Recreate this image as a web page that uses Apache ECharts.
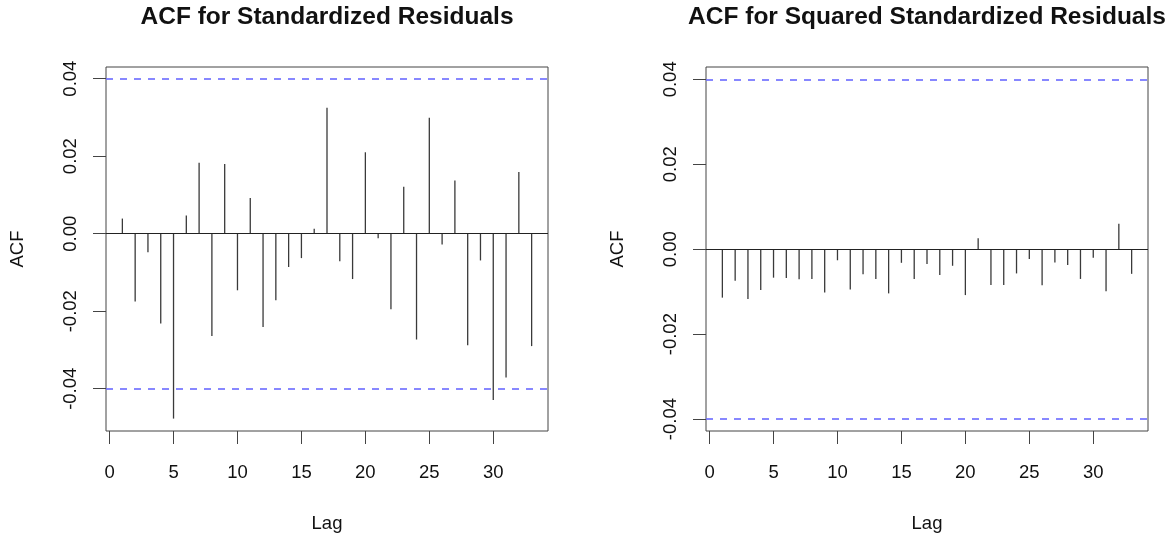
<!DOCTYPE html>
<html>
<head>
<meta charset="utf-8">
<script src="https://cdn.jsdelivr.net/npm/echarts@6/dist/echarts.min.js"></script>
<style>
html,body{margin:0;padding:0;background:#fff;}
#chart{width:1175px;height:536px;}
</style>
</head>
<body>
<div id="chart"></div>
<script>
const lags = [1,2,3,4,5,6,7,8,9,10,11,12,13,14,15,16,17,18,19,20,21,22,23,24,25,26,27,28,29,30,31,32,33];
const acfStd = [0.0039,-0.0175,-0.0048,-0.0232,-0.0477,0.0047,0.0183,-0.0264,0.0180,-0.0146,0.0092,-0.0241,-0.0172,-0.0086,-0.0063,0.0013,0.0325,
  -0.0071,-0.0117,0.0210,-0.0012,-0.0195,0.0121,-0.0273,0.0299,-0.0028,0.0137,-0.0288,-0.0069,-0.0429,-0.0371,0.0159,-0.0290];
const acfSq = [-0.0114,-0.0074,-0.0117,-0.0096,-0.0067,-0.0068,-0.0071,-0.0070,-0.0102,-0.0026,-0.0095,-0.0059,-0.0070,-0.0104,-0.0032,-0.0070,-0.0035,
  -0.0061,-0.0039,-0.0108,0.0026,-0.0084,-0.0084,-0.0057,-0.0023,-0.0085,-0.0031,-0.0037,-0.0070,-0.0020,-0.0099,0.0060,-0.0058];
const ciBound = 0.0395;
const xTicks = [0,5,10,15,20,25,30];
const yTicks = [-0.04,-0.02,0,0.02,0.04];
const titles = ['ACF for Standardized Residuals','ACF for Squared Standardized Residuals'];

const FONT = '"Liberation Sans", Arial, Helvetica, sans-serif';
const chart = echarts.init(document.getElementById('chart'), null, {renderer:'canvas'});

const grids = [
  {left:106, top:67, width:442, height:364},
  {left:706, top:67, width:442, height:364}
];
const yRanges = [[-0.0509, 0.0430], [-0.0428, 0.0429]];
const seriesData = [acfStd, acfSq];

function makeX(i){
  return {
    type:'value', gridIndex:i, min:-0.28, max:34.28,
    name:'Lag', nameLocation:'middle', nameGap:83,
    nameTextStyle:{fontFamily:FONT, fontSize:18.5, color:'#111'},
    axisLine:{show:false, onZero:false},
    axisTick:{show:true, length:13, inside:false, customValues:xTicks, lineStyle:{color:'#444', width:1}},
    axisLabel:{show:true, customValues:xTicks, margin:32, fontFamily:FONT, fontSize:18.5, color:'#111'},
    splitLine:{show:false}
  };
}
function makeY(i){
  return {
    type:'value', gridIndex:i, min:yRanges[i][0], max:yRanges[i][1],
    name:'ACF', nameLocation:'middle', nameGap:79, nameRotate:90,
    nameTextStyle:{fontFamily:FONT, fontSize:18.5, color:'#111'},
    axisLine:{show:false, onZero:false},
    axisTick:{show:true, length:13, inside:false, customValues:yTicks, lineStyle:{color:'#444', width:1}},
    axisLabel:{show:true, customValues:yTicks, rotate:90, margin:26, fontFamily:FONT, fontSize:18.5, color:'#111',
      formatter: v => v.toFixed(2)},
    splitLine:{show:false}
  };
}
function makeSeries(i){
  return {
    type:'custom', xAxisIndex:i, yAxisIndex:i,
    data: lags.map((l,k)=>[l, seriesData[i][k]]),
    encode:{x:0, y:1},
    renderItem:(params, api)=>{
      const p0 = api.coord([api.value(0), 0]);
      const p1 = api.coord([api.value(0), api.value(1)]);
      return {type:'line', shape:{x1:p0[0], y1:p0[1], x2:p1[0], y2:p1[1]},
        style:{stroke:'#3a3a3a', lineWidth:1.3}};
    },
    markLine:{
      silent:true, symbol:'none', animation:false, label:{show:false},
      data:[
        {yAxis:0, lineStyle:{type:'solid', color:'#222', width:1.2}},
        {yAxis:ciBound, lineStyle:{type:[7,7], color:'#6a6aff', width:1.6}},
        {yAxis:-ciBound, lineStyle:{type:[7,7], color:'#6a6aff', width:1.6}}
      ]
    }
  };
}

chart.setOption({
  backgroundColor:'#fff',
  animation:false,
  grid: grids.map(g => Object.assign({show:true, borderColor:'#444', borderWidth:1, backgroundColor:'transparent',
    containLabel:false, outerBoundsMode:'none'}, g)),
  xAxis:[makeX(0), makeX(1)],
  yAxis:[makeY(0), makeY(1)],
  series:[makeSeries(0), makeSeries(1)],
  graphic: titles.map((t,i)=>({
    type:'text', x: grids[i].left + grids[i].width/2, y:17,
    style:{text:t, align:'center', verticalAlign:'middle', fontFamily:FONT, fontSize:24.5, fontWeight:'bold', fill:'#111'}
  }))
});
</script>
</body>
</html>
